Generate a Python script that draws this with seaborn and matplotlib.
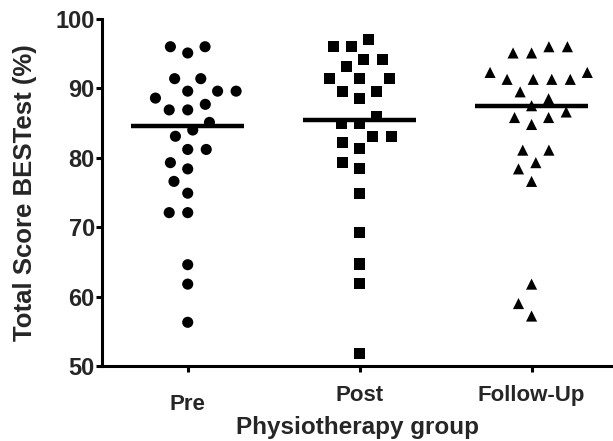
import matplotlib
matplotlib.use('Agg')
import matplotlib.pyplot as plt
import matplotlib.transforms as mtransforms
import numpy as np
import pandas as pd
import seaborn as sns

groups = ['Pre', 'Post', 'Follow-Up']
markers = ['o', 's', '^']

pre = [96.0, 95.1, 96.0, 91.4, 91.4, 89.6, 89.6, 89.6, 88.6, 87.7, 86.9, 86.9,
       85.1, 83.1, 84.0, 81.2, 81.2, 79.3, 78.4, 76.6, 74.9, 72.1, 72.1,
       64.6, 61.8, 56.3]
post = [96.0, 97.0, 96.0, 93.2, 94.1, 94.1, 91.4, 91.4, 91.4, 89.6, 89.6, 88.6,
        85.9, 84.9, 84.9, 83.1, 83.1, 82.2, 81.3, 79.3, 78.5, 74.9, 69.3,
        64.7, 61.9, 51.8]
follow = [96.0, 96.0, 95.1, 95.1, 92.3, 92.3, 91.3, 91.3, 91.3, 91.3, 89.5,
          88.5, 87.5, 86.6, 85.8, 85.8, 84.8, 81.1, 81.1, 79.3, 78.4, 76.6,
          61.8, 59.0, 57.2]

df = pd.DataFrame({
    'group': ['Pre'] * len(pre) + ['Post'] * len(post) + ['Follow-Up'] * len(follow),
    'score': pre + post + follow,
})

sns.set_style('ticks')
plt.rcParams['font.family'] = ['Liberation Sans', 'DejaVu Sans']
plt.rcParams['font.weight'] = 'bold'

fig = plt.figure(figsize=(6.13, 4.41), dpi=100)
ax = fig.add_axes([0.166, 0.170, 0.833, 0.787])

# invisible thick edge keeps the swarm spaced out like the original
for g, m in zip(groups, markers):
    sns.swarmplot(data=df[df['group'] == g], x='group', y='score', order=groups,
                  marker=m, color='black', size=8, linewidth=4.7,
                  edgecolor='none', ax=ax)

medians = df.groupby('group')['score'].median()
for i, g in enumerate(groups):
    ax.hlines(medians[g], i - 0.33, i + 0.33, color='black', lw=3.2, zorder=5)

ax.set_ylim(50, 100)
ax.set_xlim(-0.5, 2.47)
ax.set_yticks([50, 60, 70, 80, 90, 100])
ax.set_xlabel('Physiotherapy group', fontsize=17.5, fontweight='bold', labelpad=1)
ax.set_ylabel('Total Score BESTest (%)', fontsize=18.5, fontweight='bold', labelpad=13)
ax.tick_params(axis='both', width=2.2, length=4, color='black')
ax.tick_params(axis='y', labelsize=17, pad=1)
ax.tick_params(axis='x', labelsize=16, pad=10)
for lab in ax.get_xticklabels() + ax.get_yticklabels():
    lab.set_fontweight('bold')
# the "Pre" label sits a little lower in the original
pre_lab = ax.get_xticklabels()[0]
pre_lab.set_transform(pre_lab.get_transform() +
                      mtransforms.ScaledTranslation(0, -6 / 72, fig.dpi_scale_trans))
for s in ['left', 'bottom']:
    ax.spines[s].set_linewidth(2.2)
    ax.spines[s].set_color('black')
sns.despine(ax=ax)

fig.savefig('out.png', dpi=100)
